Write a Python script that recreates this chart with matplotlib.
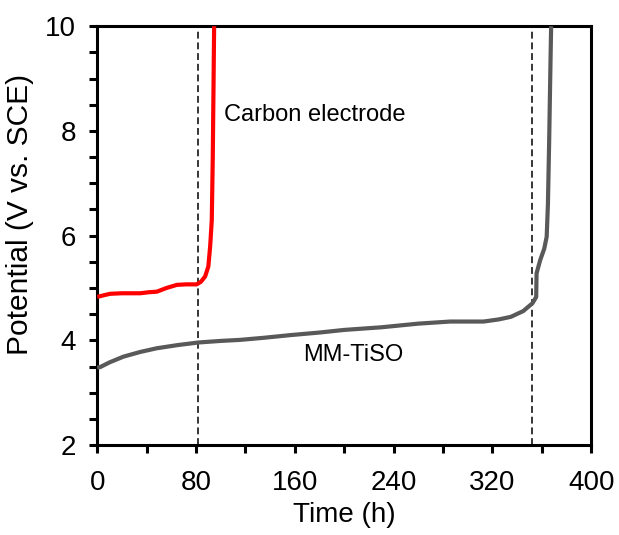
import matplotlib
matplotlib.use("Agg")
import matplotlib.pyplot as plt
from matplotlib.ticker import MultipleLocator

plt.rcParams['font.family'] = ['Liberation Sans', 'DejaVu Sans']

# Carbon electrode (red)
carbon_t = [0, 5, 10.5, 20, 34.8, 42, 48.3, 56, 64.5, 72, 80.6, 84, 87.4, 90, 91.5, 92.8, 93.6, 94.2, 94.7]
carbon_v = [4.83, 4.86, 4.89, 4.90, 4.90, 4.92, 4.93, 5.00, 5.06, 5.07, 5.07, 5.12, 5.22, 5.41, 5.8, 6.3, 7.5, 8.84, 10.0]

# MM-TiSO (gray)
tiso_t = [0, 2.4, 10, 21.3, 35, 48.3, 65, 82, 100, 115.8, 135, 156, 180, 200, 230, 260, 285.9, 312.9, 325, 335, 345, 352.5, 355.5, 355.8, 358.7, 362, 364, 365, 366, 367, 367.6]
tiso_v = [3.48, 3.49, 3.58, 3.69, 3.78, 3.85, 3.91, 3.96, 3.99, 4.01, 4.05, 4.10, 4.15, 4.20, 4.25, 4.32, 4.36, 4.36, 4.40, 4.45, 4.56, 4.71, 4.83, 5.28, 5.53, 5.75, 5.98, 6.6, 7.8, 9.2, 10.0]

# Reference dashed lines
vlines_t = [82, 352.5]

fig = plt.figure(figsize=(6.19, 5.35), dpi=100)
ax = fig.add_axes([0.157, 0.168, 0.798, 0.783])

ax.plot(carbon_t, carbon_v, color='#ff0000', lw=3.0, solid_capstyle='butt', zorder=3)
ax.plot(tiso_t, tiso_v, color='#595959', lw=3.0, solid_capstyle='butt', zorder=3)
for t in vlines_t:
    ax.axvline(t, color='black', lw=1.1, ls=(0, (4.5, 2.5)), zorder=2)

ax.set_xlim(0, 400)
ax.set_ylim(2, 10)
ax.xaxis.set_major_locator(MultipleLocator(80))
ax.xaxis.set_minor_locator(MultipleLocator(40))
ax.yaxis.set_major_locator(MultipleLocator(2))
ax.yaxis.set_minor_locator(MultipleLocator(0.5))

for s in ax.spines.values():
    s.set_linewidth(2.2)
ax.tick_params(which='both', direction='out', width=2.2, length=6, labelsize=20, pad=9)
ax.tick_params(axis='x', which='both', pad=12)

ax.set_xlabel('Time (h)', fontsize=20, labelpad=4)
ax.set_ylabel('Potential (V vs. SCE)', fontsize=21.5)
ax.yaxis.set_label_coords(-0.128, 0.55)

ax.text(103, 8.3, 'Carbon electrode', fontsize=17, ha='left', va='center')
ax.text(207, 3.72, 'MM-TiSO', fontsize=17, ha='center', va='center')

fig.savefig('out.png', dpi=100)
